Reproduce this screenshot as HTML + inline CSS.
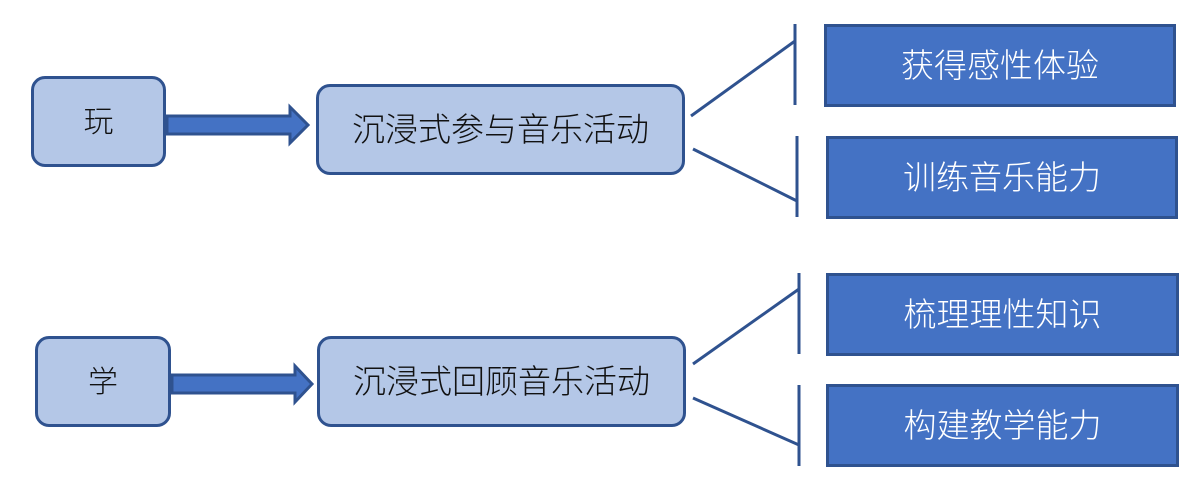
<!DOCTYPE html>
<html><head><meta charset="utf-8"><style>
body{margin:0;width:1200px;height:495px;background:#fff;position:relative;overflow:hidden;font-family:"Liberation Sans","Noto Sans CJK SC",sans-serif;font-weight:300}
.b{position:absolute;box-sizing:border-box;display:flex;align-items:center;justify-content:center;padding-bottom:6px}
.l{background:#b4c7e7;border:3px solid #2f528f;border-radius:14px;color:#111;font-size:33px}
.s{font-size:30px}
.d{background:#4472c4;border:3px solid #2f528f;color:#fff;font-size:33px}
</style></head><body>
<div class="b l s" style="left:31px;top:76px;width:135px;height:91px">玩</div>
<div class="b l" style="left:316px;top:84px;width:369px;height:91px">沉浸式参与音乐活动</div>
<div class="b l s" style="left:35px;top:336px;width:136px;height:91px">学</div>
<div class="b l" style="left:317px;top:336px;width:369px;height:91px">沉浸式回顾音乐活动</div>
<div class="b d" style="left:824px;top:24px;width:352px;height:83px">获得感性体验</div>
<div class="b d" style="left:826px;top:136px;width:352px;height:83px">训练音乐能力</div>
<div class="b d" style="left:826px;top:273px;width:353px;height:83px">梳理理性知识</div>
<div class="b d" style="left:826px;top:384px;width:353px;height:83px">构建教学能力</div>
<svg width="1200" height="495" style="position:absolute;left:0;top:0">
<g fill="#4472c4" stroke="#2f528f" stroke-width="3">
<polygon points="167,116 290,116 290,107 308,125 290,143 290,134 167,134"/>
<polygon points="172,375 295,375 295,366 312,384 295,402 295,393 172,393"/>
</g>
<g stroke="#2f528f" stroke-width="3" fill="none">
<line x1="691" y1="116" x2="795" y2="41"/><line x1="795" y1="24" x2="795" y2="105"/>
<line x1="693" y1="149" x2="797" y2="201"/><line x1="797" y1="136" x2="797" y2="217"/>
<line x1="693" y1="364" x2="799" y2="289"/><line x1="799" y1="273" x2="799" y2="354"/>
<line x1="693" y1="398" x2="799" y2="445"/><line x1="799" y1="385" x2="799" y2="466"/>
</g>
</svg>
</body></html>
